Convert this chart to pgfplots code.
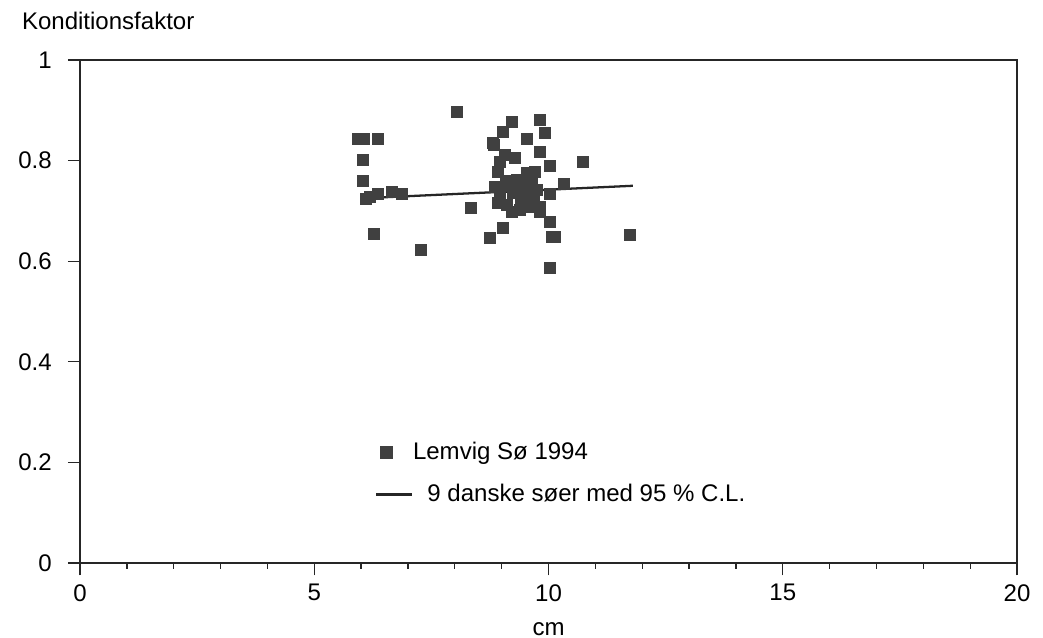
\documentclass[border=0pt]{standalone}
\usepackage{fontspec}
\setmainfont{Liberation Sans}
\usepackage{pgfplots}
\pgfplotsset{compat=1.18}
\definecolor{mk}{HTML}{404040}
\pgfplotsset{
  scatleg/.style={legend image code/.code={\path[draw=none,fill=none] (0cm,0cm) -- (0.3cm,0cm);
    \fill[mk] (-0.005cm,-0.08cm) rectangle (0.155cm,0.08cm);}},
  lineleg/.style={legend image code/.code={\path[draw=none,fill=none] (0cm,0cm) -- (0.3cm,0cm);
    \draw[overlay,##1] (-0.07cm,0cm) -- (0.43cm,0cm);}},
}
\begin{document}
\begin{tikzpicture}
\begin{axis}[name=ax,
  width=13.02cm, height=6.99cm, scale only axis,
  xmin=0, xmax=20, ymin=0, ymax=1,
  xtick={0,5,10,15,20}, minor x tick num=4,
  ytick={0,0.2,0.4,0.6,0.8,1},
  yticklabels={0,0.2,0.4,0.6,0.8,1},
  tick align=outside, tick pos=left,
  major tick length=0.17cm, minor tick length=0.08cm,
  xticklabel style={yshift=0cm},
  yticklabel style={xshift=-0.1cm},
  /pgf/number format/assume math mode=true,
  xlabel={cm}, xlabel style={yshift=-0.06cm},
  axis line style={line width=0.6pt, black!85},
  every tick/.style={black!85, line width=0.5pt},
  tick label style={font=\fontsize{9.5}{11}\selectfont},
  label style={font=\fontsize{9.5}{11}\selectfont},
  legend style={draw=none, fill=none, at={(0.312,0.262)}, anchor=north west,
    font=\fontsize{9.5}{11}\selectfont, row sep=0.15cm},
  legend cell align=left,
  clip=false,
]
\addplot[only marks, mark=square*, mark size=0.075cm, mark options={fill=mk, draw=mk}, scatleg] coordinates {
(5.93,0.843)(6.06,0.843)(6.36,0.843)(6.04,0.801)(6.04,0.759)
(6.19,0.728)(6.36,0.734)(6.66,0.738)(6.87,0.734)(6.10,0.724)
(6.27,0.654)(7.28,0.622)(8.05,0.897)(8.35,0.706)(8.75,0.646)(8.84,0.831)
(9.22,0.877)(9.82,0.881)(9.03,0.857)(9.93,0.855)(9.54,0.843)
(10.74,0.797)(10.33,0.753)(10.03,0.734)(10.07,0.648)(10.14,0.648)
(11.74,0.652)(10.03,0.586)
(8.82,0.835)(9.82,0.817)(9.07,0.811)(9.28,0.805)(8.96,0.797)
(10.03,0.789)(8.92,0.777)(9.71,0.777)(9.54,0.775)(8.86,0.748)
(9.33,0.761)(9.46,0.761)(9.65,0.755)(8.96,0.736)(9.24,0.736)
(9.54,0.742)(9.75,0.742)(8.92,0.716)(9.11,0.712)(9.39,0.702)
(9.61,0.708)(9.82,0.708)(9.22,0.698)(9.82,0.698)(10.03,0.678)
(9.03,0.666)(9.40,0.720)(9.50,0.730)(9.20,0.750)(9.60,0.720)
(9.10,0.760)(9.35,0.745)(9.70,0.730)(9.45,0.712)
};
\addlegendentry{\hspace*{0.07cm}Lemvig Sø 1994}
\addplot[black!85, line width=0.9pt, lineleg] coordinates {(6.0,0.725)(11.8,0.750)};
\addlegendentry{\hspace*{0.27cm}9 danske søer med 95 \% C.L.}
\node[anchor=base west, font=\fontsize{9.5}{11}\selectfont] at ([shift={(-0.93cm,0.42cm)}]rel axis cs:0,1) {Konditionsfaktor};
\end{axis}
\pgfresetboundingbox
\path[use as bounding box] ([shift={(-1.112cm,-1.029cm)}]ax.south west) rectangle ([shift={(0.361cm,0.834cm)}]ax.north east);
\end{tikzpicture}
\end{document}
